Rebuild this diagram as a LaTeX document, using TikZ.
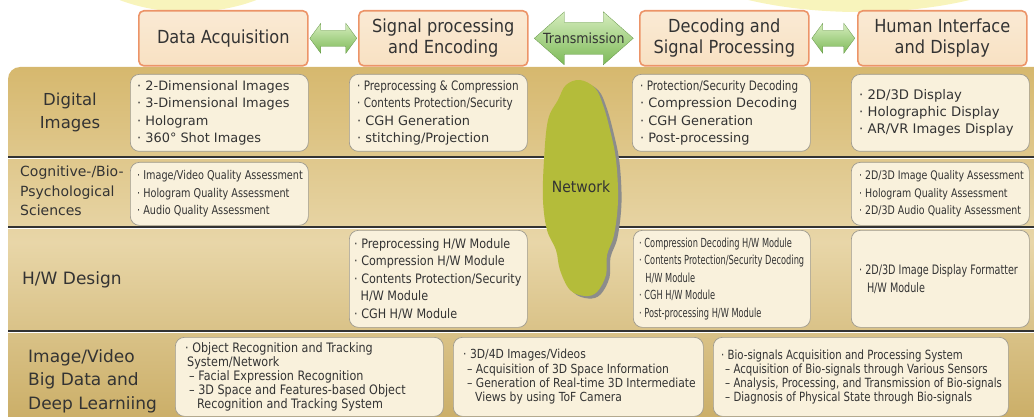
\documentclass[tikz,border=0pt]{standalone}
\usepackage{fontspec}
\setmainfont{DejaVu Sans}
\newfontfamily\headfont[FakeStretch=0.9]{DejaVu Sans}
\newfontfamily\semifont[FakeStretch=0.86]{DejaVu Sans}
\newfontfamily\condfont[FakeStretch=0.8]{DejaVu Sans}
\newfontfamily\narfont[FakeStretch=0.74]{DejaVu Sans}
\newfontfamily\xcondfont[FakeStretch=0.66]{DejaVu Sans}
\usetikzlibrary{calc, positioning}

\definecolor{panelgold}{HTML}{D6B86E}
\definecolor{panellight}{HTML}{E8D6A8}
\definecolor{cellfill}{HTML}{F9F1DC}
\definecolor{cellline}{HTML}{9E9A8E}
\definecolor{headfill}{HTML}{F8E1C2}
\definecolor{headline}{HTML}{EC9468}
\definecolor{arrowgreen}{HTML}{7DBA58}
\definecolor{arrowlight}{HTML}{D6EDBE}
\definecolor{netgreen}{HTML}{B4BC3A}
\definecolor{inkgray}{HTML}{333333}
\definecolor{glowyellow}{HTML}{F8F4BC}

\tikzset{
  head/.style={draw=headline, line width=1.6pt, rounded corners=5pt,
    top color=headfill!70!white, bottom color=headfill,
    minimum width=169pt, minimum height=55pt, inner sep=2pt,
    align=center, text=inkgray, anchor=north west,
    font=\headfont\fontsize{18}{21}\selectfont},
  cell/.style={draw=cellline, line width=0.7pt, rounded corners=9pt,
    fill=cellfill, anchor=north west, inner sep=0pt},
  celltext/.style={anchor=west, align=left, text=inkgray, inner sep=0pt},
  rowlabel/.style={text=inkgray, align=left, anchor=west, inner sep=0pt},
  garrow/.style={top color=arrowlight, bottom color=arrowgreen,
    draw=arrowgreen!80!black, line width=0.3pt},
  divider/.style={line width=1.4pt, draw=black!80},
}

% double arrow: centre, half length, head length, half head, half shaft
\newcommand\grarrow[5]{%
  \begin{scope}[shift={(#1)}]
    \draw[garrow] (-#2,0) -- ({-#2+#3},-#4) -- ({-#2+#3},-#5) -- ({#2-#3},-#5)
      -- ({#2-#3},-#4) -- (#2,0) -- ({#2-#3},#4) -- ({#2-#3},#5)
      -- ({-#2+#3},#5) -- ({-#2+#3},#4) -- cycle;
  \end{scope}}

\begin{document}
\begin{tikzpicture}[x=1pt, y=-1pt]
\useasboundingbox (0,0) rectangle (1034,417);

% glow at the top
\begin{scope}
  \clip (0,0) rectangle (1034,417);
  \fill[glowyellow] (188,-68) ellipse [x radius=130, y radius=80];
  \fill[glowyellow] (859,-68) ellipse [x radius=210, y radius=80];
\end{scope}

% panel
\shade[top color=panelgold, bottom color=panelgold!95!black, middle color=panellight]
  (8,417) [rounded corners=12pt]-- (8,67) [sharp corners]-- (1034,67) -- (1034,417) -- cycle;
\foreach \yy in {157,227,331}{
  \draw[divider] (8,\yy) -- (1034,\yy);
  \draw[white, line width=0.8pt] (8,\yy+1.6) -- (1034,\yy+1.6);
}

% chain of stages
\node[head] (acq) at (138,10) {Data Acquisition};
\node[head] (sig) at (358,10) {Signal processing\\and Encoding};
\node[head] (dec) at (639,10) {Decoding and\\Signal Processing};
\node[head] (hid) at (857,10) {Human Interface\\and Display};

\grarrow{$(acq.east)!0.5!(sig.west)$}{23.5}{11}{15}{8}
\grarrow{$(sig.east)!0.5!(dec.west)$}{49.5}{30}{26.5}{16}
\grarrow{$(dec.east)!0.5!(hid.west)$}{21.5}{11}{15}{8}
\node[text=inkgray, font=\headfont\fontsize{14}{16}\selectfont] (trans)
  at ($(sig.east)!0.5!(dec.west)$) {Transmission};

% row labels
\node[text=inkgray, align=center, font=\fontsize{16.5}{23}\selectfont] (lbdig) at (70,112) {Digital\\Images};
\node[rowlabel, font=\fontsize{14}{19.5}\selectfont] (lbcog) at (20,191) {Cognitive-/Bio-\\Psychological\\Sciences};
\node[rowlabel, font=\fontsize{17}{22}\selectfont] (lbhw) at (22,280) {H/W Design};
\node[rowlabel, font=\fontsize{17}{23.5}\selectfont] (lbbig) at (28,381) {Image/Video\\Big Data and\\Deep Learniing};

% digital images
\node[cell, minimum width=178pt, minimum height=77pt] (diacq) at (130,74) {};
\node[celltext, font=\fontsize{12.9}{17.4}\selectfont] (diacqt) at ([xshift=7pt]diacq.west)
  {· 2-Dimensional Images\\· 3-Dimensional Images\\· Hologram\\· 360° Shot Images};
\node[cell, minimum width=178pt, minimum height=77pt] (dienc) at (349,74) {};
\node[celltext, font=\fontsize{12.9}{17.4}\selectfont] (dienct) at ([xshift=8pt]dienc.west)
  {{\condfont\fontsize{13}{17.4}\selectfont · Preprocessing \& Compression}\\
   {\condfont\fontsize{13}{17.4}\selectfont · Contents Protection/Security}\\
   · CGH Generation\\· stitching/Projection};
\node[cell, minimum width=178pt, minimum height=77pt] (didec) at (632,74) {};
\node[celltext, font=\fontsize{12.9}{17.4}\selectfont] (didect) at ([xshift=8pt]didec.west)
  {{\condfont\fontsize{13}{17.4}\selectfont · Protection/Security Decoding}\\
   · Compression Decoding\\· CGH Generation\\· Post-processing};
\node[cell, minimum width=178pt, minimum height=77pt] (dihid) at (851,74) {};
\node[celltext, font=\fontsize{13.2}{17.4}\selectfont] (dihidt) at ([xshift=8pt]dihid.west)
  {· 2D/3D Display\\· Holographic Display\\· AR/VR Images Display};

% cognitive sciences
\node[cell, minimum width=178pt, minimum height=63pt] (cgacq) at (130,162) {};
\node[celltext, font=\condfont\fontsize{12.1}{17.5}\selectfont] (cgacqt) at ([xshift=7pt]cgacq.west)
  {· Image/Video Quality Assessment\\· Hologram Quality Assessment\\· Audio Quality Assessment};
\node[cell, minimum width=178pt, minimum height=63pt] (cghid) at (851,162) {};
\node[celltext, font=\condfont\fontsize{11.8}{17.5}\selectfont] (cghidt) at ([xshift=8pt]cghid.west)
  {· 2D/3D Image Quality Assessment\\· Hologram Quality Assessment\\· 2D/3D Audio Quality Assessment};

% network
\fill[black!45] plot[smooth cycle, tension=0.6, shift={(3.5,2.5)}] coordinates
  {(548,120) (544,160) (543,200) (547,230) (556,250) (560,270) (570,290)
   (585,296) (597,292) (606,275) (607,255) (614,235) (618,200) (616,160)
   (610,130) (603,105) (595,88) (580,80) (566,85) (558,100)};
\fill[netgreen] plot[smooth cycle, tension=0.6] coordinates
  {(548,120) (544,160) (543,200) (547,230) (556,250) (560,270) (570,290)
   (585,296) (597,292) (606,275) (607,255) (614,235) (618,200) (616,160)
   (610,130) (603,105) (595,88) (580,80) (566,85) (558,100)};
\node[text=inkgray, font=\headfont\fontsize{15.5}{18}\selectfont] (net) at (581,187) {Network};

% h/w design
\node[cell, minimum width=178pt, minimum height=97pt] (hwenc) at (349,230) {};
\node[celltext, font=\semifont\fontsize{13}{17.5}\selectfont] (hwenct) at ([xshift=5pt]hwenc.west)
  {· Preprocessing H/W Module\\· Compression H/W Module\\· Contents Protection/Security\\
   \hspace*{0.5em}H/W Module\\· CGH H/W Module};
\node[cell, minimum width=177pt, minimum height=97pt] (hwdec) at (633,230) {};
\node[celltext, font=\xcondfont\fontsize{12.5}{17.5}\selectfont] (hwdect) at ([xshift=6pt]hwdec.west)
  {· Compression Decoding H/W Module\\· Contents Protection/Security Decoding\\
   \hspace*{0.5em}H/W Module\\· CGH H/W Module\\· Post-processing H/W Module};
\node[cell, minimum width=178pt, minimum height=97pt] (hwhid) at (851,230) {};
\node[celltext, font=\narfont\fontsize{13}{18}\selectfont] (hwhidt) at ([xshift=8pt]hwhid.west)
  {· 2D/3D Image Display Formatter\\\hspace*{0.6em}H/W Module};

% big data
\node[cell, minimum width=268pt, minimum height=79pt] (bdacq) at (175,337) {};
\node[celltext, font=\semifont\fontsize{13}{13.8}\selectfont] (bdacqt) at ([xshift=10pt]bdacq.west)
  {· Object Recognition and Tracking\\\hspace*{2pt}System/Network\\
   \hspace*{4pt}– Facial Expression Recognition\\
   \hspace*{4pt}– 3D Space and Features-based Object\\
   \hspace*{12pt}Recognition and Tracking System};
\node[cell, minimum width=250pt, minimum height=79pt] (bdenc) at (453,337) {};
\node[celltext, font=\semifont\fontsize{12.5}{14.3}\selectfont] (bdenct) at ([xshift=10pt]bdenc.west)
  {· 3D/4D Images/Videos\\
   \hspace*{4pt}– Acquisition of 3D Space Information\\
   \hspace*{4pt}– Generation of Real-time 3D Intermediate\\
   \hspace*{12pt}Views by using ToF Camera};
\node[cell, minimum width=295pt, minimum height=79pt] (bdhid) at (713,337) {};
\node[celltext, font=\condfont\fontsize{12.7}{14}\selectfont] (bdhidt) at ([xshift=8pt]bdhid.west)
  {· Bio-signals Acquisition and Processing System\\
   \hspace*{4pt}– Acquisition of Bio-signals through Various Sensors\\
   \hspace*{4pt}– Analysis, Processing, and Transmission of Bio-signals\\
   \hspace*{4pt}– Diagnosis of Physical State through Bio-signals};
\end{tikzpicture}
\end{document}
